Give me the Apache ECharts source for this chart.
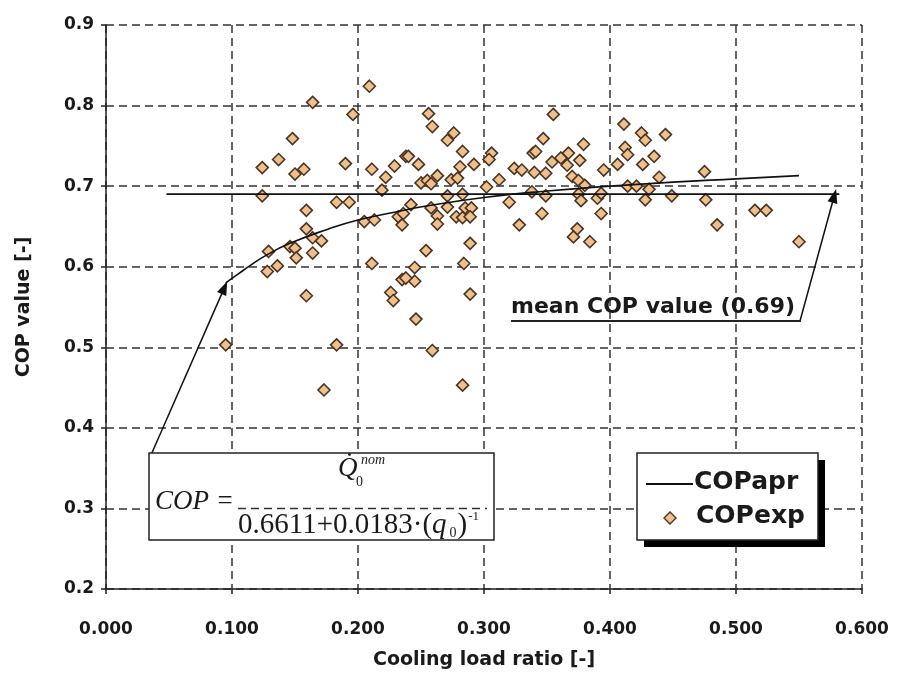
<!DOCTYPE html>
<html>
<head>
<meta charset="utf-8">
<script src="https://cdn.jsdelivr.net/npm/echarts/dist/echarts.min.js"></script>
<style>
html, body { margin: 0; padding: 0; background: #fff; }
#chart { width: 898px; height: 683px; }
</style>
</head>
<body>
<div id="chart"></div>
<script>
// measured points (cooling load ratio, COP)
const expX = [0.209, 0.164, 0.196, 0.148, 0.137, 0.124, 0.150, 0.157, 0.190, 0.211, 0.229, 0.238, 0.222, 0.219, 0.124, 0.183, 0.193, 0.159, 0.205, 0.213,
  0.159, 0.232, 0.236, 0.235, 0.164, 0.171, 0.129, 0.128, 0.136, 0.146, 0.150, 0.151, 0.164, 0.159, 0.095, 0.183, 0.173, 0.211, 0.235, 0.226,
  0.228, 0.256, 0.259, 0.271, 0.276, 0.355, 0.347, 0.379, 0.240, 0.248, 0.283, 0.281, 0.292, 0.306, 0.304, 0.263, 0.250, 0.255, 0.258, 0.274,
  0.279, 0.302, 0.312, 0.271, 0.283, 0.242, 0.258, 0.271, 0.263, 0.263, 0.278, 0.285, 0.290, 0.283, 0.289, 0.320, 0.328, 0.324, 0.330, 0.339,
  0.341, 0.340, 0.349, 0.354, 0.361, 0.367, 0.366, 0.376, 0.370, 0.375, 0.380, 0.338, 0.349, 0.346, 0.375, 0.377, 0.374, 0.371, 0.390, 0.393,
  0.395, 0.289, 0.254, 0.245, 0.245, 0.238, 0.284, 0.289, 0.246, 0.259, 0.283, 0.384, 0.411, 0.425, 0.428, 0.444, 0.412, 0.414, 0.406, 0.426,
  0.435, 0.439, 0.475, 0.414, 0.421, 0.431, 0.428, 0.449, 0.476, 0.393, 0.485, 0.515, 0.524, 0.550];
const expY = [0.824, 0.804, 0.789, 0.759, 0.733, 0.723, 0.715, 0.721, 0.728, 0.721, 0.725, 0.737, 0.711, 0.695, 0.688, 0.680, 0.680, 0.670, 0.656, 0.658,
  0.647, 0.662, 0.666, 0.652, 0.636, 0.632, 0.619, 0.594, 0.601, 0.625, 0.623, 0.611, 0.617, 0.564, 0.503, 0.503, 0.447, 0.604, 0.584, 0.568,
  0.558, 0.790, 0.774, 0.757, 0.766, 0.789, 0.759, 0.752, 0.737, 0.727, 0.743, 0.724, 0.727, 0.741, 0.733, 0.713, 0.704, 0.707, 0.703, 0.708,
  0.710, 0.699, 0.708, 0.688, 0.690, 0.677, 0.673, 0.674, 0.663, 0.653, 0.662, 0.673, 0.673, 0.661, 0.662, 0.680, 0.652, 0.722, 0.720, 0.741,
  0.743, 0.717, 0.716, 0.730, 0.735, 0.741, 0.726, 0.732, 0.712, 0.707, 0.701, 0.693, 0.688, 0.666, 0.690, 0.682, 0.647, 0.637, 0.685, 0.666,
  0.720, 0.629, 0.620, 0.599, 0.582, 0.586, 0.604, 0.566, 0.535, 0.496, 0.453, 0.631, 0.777, 0.766, 0.757, 0.764, 0.748, 0.739, 0.727, 0.727,
  0.737, 0.711, 0.718, 0.700, 0.700, 0.696, 0.683, 0.688, 0.683, 0.691, 0.652, 0.670, 0.670, 0.631];

// approximation curve
const apprX = [0.095, 0.105, 0.114, 0.128, 0.146, 0.175, 0.200, 0.230, 0.253, 0.300, 0.350, 0.400, 0.450, 0.500, 0.550];
const apprY = [0.580, 0.591, 0.601, 0.615, 0.629, 0.646, 0.658, 0.668, 0.675, 0.686, 0.694, 0.700, 0.705, 0.709, 0.713];

// mean COP line
const meanX = [0.048, 0.582];
const meanCop = 0.69;

const zip = (a, b) => a.map((v, i) => [v, b[i]]);

const txt = '#1a1a1a';
const gridLine = { lineStyle: { color: '#333', type: [8, 5], width: 1.5 } };
const serif = "'Liberation Serif', 'DejaVu Serif', serif";
const sans = "'DejaVu Sans', 'Liberation Sans', Arial, sans-serif";

const myChart = echarts.init(document.getElementById('chart'));

const option = {
  backgroundColor: '#fff',
  animation: false,
  grid: { left: 106, right: 36, top: 25, bottom: 94 },
  xAxis: {
    type: 'value',
    min: 0, max: 0.6, interval: 0.1,
    name: 'Cooling load ratio [-]',
    nameLocation: 'middle',
    nameGap: 62,
    nameTextStyle: { color: txt, fontSize: 19, fontWeight: 'bold', fontFamily: sans },
    axisLine: { onZero: false, lineStyle: { color: '#222', width: 1.5 } },
    axisTick: { show: true, length: 5, lineStyle: { color: '#222', width: 1.5 } },
    axisLabel: {
      color: txt, fontSize: 17, fontWeight: 'bold', fontFamily: sans, margin: 32,
      formatter: v => v.toFixed(3)
    },
    splitLine: Object.assign({ show: true }, gridLine)
  },
  yAxis: {
    type: 'value',
    min: 0.2, max: 0.9, interval: 0.1,
    name: 'COP value [-]',
    nameLocation: 'middle',
    nameGap: 72,
    nameTextStyle: { color: txt, fontSize: 19, fontWeight: 'bold', fontFamily: sans },
    axisLine: { show: true, onZero: false, lineStyle: { color: '#222', width: 1.5 } },
    axisTick: { show: true, length: 5, lineStyle: { color: '#222', width: 1.5 } },
    axisLabel: {
      color: txt, fontSize: 17, fontWeight: 'bold', fontFamily: sans, margin: 12,
      formatter: v => v.toFixed(1)
    },
    splitLine: Object.assign({ show: true }, gridLine)
  },
  series: [
    {
      name: 'COPexp',
      type: 'scatter',
      data: zip(expX, expY),
      symbol: 'diamond',
      symbolSize: 12,
      itemStyle: { color: '#efc08b', borderColor: '#4a3424', borderWidth: 1.6, opacity: 1 },
      z: 3
    },
    {
      name: 'COPapr',
      type: 'line',
      data: zip(apprX, apprY),
      smooth: true,
      symbol: 'none',
      lineStyle: { color: '#111', width: 1.6 },
      z: 4
    },
    {
      name: 'mean',
      type: 'line',
      data: meanX.map(x => [x, meanCop]),
      symbol: 'none',
      lineStyle: { color: '#111', width: 1.8 },
      z: 4,
      markLine: {
        silent: true,
        symbol: ['none', 'triangle'],
        symbolSize: [10, 14],
        label: { show: false },
        lineStyle: { color: '#111', width: 1.5, type: 'solid' },
        data: [
          [{ x: 151, y: 455 }, { coord: [0.094, 0.574] }],
          [{ x: 800, y: 321 }, { coord: [0.578, 0.688] }]
        ]
      }
    }
  ],
  graphic: [
    // formula box
    { type: 'rect', z: 10, shape: { x: 149, y: 453, width: 345, height: 87 },
      style: { fill: '#fff', stroke: '#222', lineWidth: 1.5 } },
    { type: 'text', z: 11, left: 155, top: 488,
      style: { text: 'COP =', font: 'italic 27px ' + serif, fill: txt } },
    { type: 'text', z: 11, left: 338, top: 455,
      style: { text: 'Q\u0307', font: 'italic 27px ' + serif, fill: txt } },
    { type: 'text', z: 11, left: 356, top: 475,
      style: { text: '0', font: '14px ' + serif, fill: txt } },
    { type: 'text', z: 11, left: 361, top: 453,
      style: { text: 'nom', font: 'italic 14px ' + serif, fill: txt } },
    { type: 'line', z: 11, shape: { x1: 238, y1: 508.5, x2: 487, y2: 508.5 },
      style: { stroke: '#333', lineWidth: 1.5, lineDash: [8, 5] } },
    { type: 'text', z: 11, left: 238, top: 510,
      style: {
        text: '{n|0.6611+0.0183·(}{q|q}{s|0}{n|)}{p|-1}',
        fill: txt,
        rich: {
          n: { fontSize: 29, fontFamily: serif, lineHeight: 30 },
          q: { fontSize: 29, fontFamily: serif, fontStyle: 'italic', lineHeight: 30 },
          s: { fontSize: 14, fontFamily: serif, lineHeight: 13, verticalAlign: 'bottom', padding: [0, 1, 0, 3] },
          p: { fontSize: 13, fontFamily: serif, lineHeight: 13, verticalAlign: 'top', padding: [0, 0, 0, 1] }
        }
      } },

    // legend box with shadow
    { type: 'rect', z: 10, shape: { x: 644, y: 460, width: 181, height: 87 },
      style: { fill: '#000' } },
    { type: 'rect', z: 11, shape: { x: 637, y: 453, width: 181, height: 87 },
      style: { fill: '#fff', stroke: '#222', lineWidth: 1.5 } },
    { type: 'line', z: 12, shape: { x1: 646, y1: 484, x2: 693, y2: 484 },
      style: { stroke: '#111', lineWidth: 2 } },
    { type: 'text', z: 12, left: 694, top: 470,
      style: { text: 'COPapr', font: 'bold 25px ' + sans, fill: txt } },
    { type: 'polygon', z: 12, shape: { points: [[670, 512], [676, 518], [670, 524], [664, 518]] },
      style: { fill: '#efc08b', stroke: '#4a3424', lineWidth: 1.4 } },
    { type: 'text', z: 12, left: 696, top: 504,
      style: { text: 'COPexp', font: 'bold 25px ' + sans, fill: txt } },

    // mean label
    { type: 'text', z: 12, left: 511, top: 296,
      style: { text: 'mean COP value (0.69)', font: 'bold 22px ' + sans, fill: txt } },
    { type: 'line', z: 12, shape: { x1: 511, y1: 321, x2: 801, y2: 321 },
      style: { stroke: '#222', lineWidth: 1.8 } }
  ]
};

myChart.setOption(option);
</script>
</body>
</html>
